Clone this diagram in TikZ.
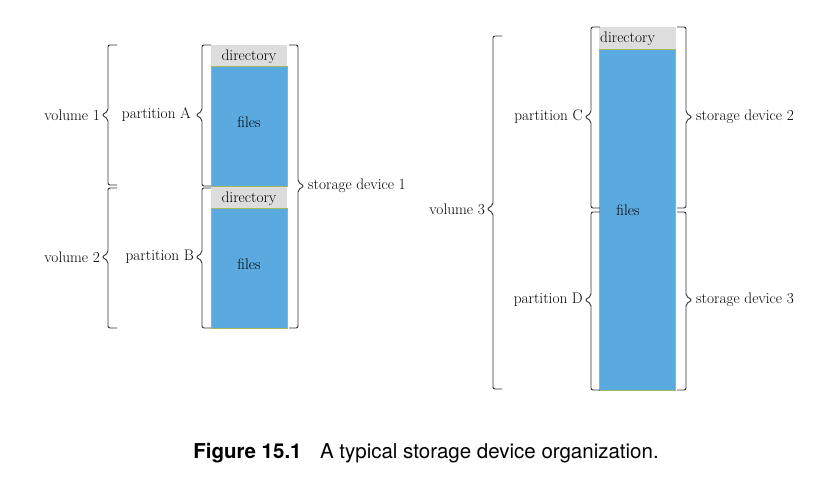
\documentclass[tikz,border=0pt]{standalone}
\usepackage{fontspec}
\newfontfamily\capfont{TeX Gyre Heros}
\usepackage{tikz}
\usetikzlibrary{positioning, shadows}
\definecolor{filesblue}{RGB}{90,170,224}
\definecolor{dirgray}{RGB}{221,221,221}
\definecolor{edgegreen}{RGB}{165,185,95}
\newcommand{\lblsize}{\fontsize{15.3}{17}\selectfont}
\tikzset{
	dir/.style={
			rectangle, fill=dirgray, minimum width=76pt, minimum height=21pt,
			inner sep=0pt, text centered, anchor=north west, font=\lblsize},
	files/.style={
			rectangle, fill=filesblue, draw=edgegreen, line width=0.5pt,
			minimum width=76pt, inner sep=0pt, anchor=north west, font=\lblsize,
			drop shadow={opacity=0.25, shadow xshift=1pt, shadow yshift=-1pt}},
	brk/.style={draw=black!80, line width=0.9pt, rounded corners=2pt},
	lbl/.style={inner sep=0pt, font=\lblsize},
		}
% left bracket: name, x, top, tip, bottom
\newcommand{\brkleft}[5]{%
	\draw[brk] (#2+9,#3) -- (#2,#3) -- (#2,#4-4) -- (#2-6,#4) -- (#2,#4+4) -- (#2,#5) -- (#2+9,#5);
	\coordinate (#1) at (#2-6,#4);
}
% right bracket: name, x, top, tip, bottom
\newcommand{\brkright}[5]{%
	\draw[brk] (#2-9,#3) -- (#2,#3) -- (#2,#4-4) -- (#2+6,#4) -- (#2,#4+4) -- (#2,#5) -- (#2-9,#5);
	\coordinate (#1) at (#2+6,#4);
}

\begin{document}
\begin{tikzpicture}[x=1pt, y=-1pt]
	\useasboundingbox (0,0) rectangle (830,478);

	% storage device 1
	\node[files, minimum height=120pt] (filesA) at (211,66) {};
	\node[dir] (dirA) at (211,45) {};
	\node[lbl] (dirAtxt) at (249,57) {directory};
	\node[lbl] (filesAtxt) at (249,122) {files};
	\node[files, minimum height=120pt] (filesB) at (211,208) {};
	\node[dir] (dirB) at (211,187) {};
	\node[lbl] (dirBtxt) at (249,199) {directory};
	\node[lbl] (filesBtxt) at (249,264) {files};

	% storage devices 2 and 3
	\node[files, minimum height=341pt] (filesCD) at (599,49) {};
	\node[dir, minimum width=77pt, minimum height=22pt] (dirC) at (599,27) {};
	\node[lbl, anchor=west] (dirCtxt) at (600,39) {directory};
	\node[lbl] (filesCDtxt) at (628,210) {files};

	% brackets
	\brkleft{vol1tip}{108}{45}{115}{185}
	\brkleft{vol2tip}{108}{188}{257}{328}
	\brkleft{partAtip}{202}{45}{115}{186}
	\brkleft{partBtip}{202}{188}{257}{328}
	\brkright{sd1tip}{298}{45}{186}{328}
	\brkleft{vol3tip}{493}{36}{209}{389}
	\brkleft{partCtip}{591}{27}{117}{208}
	\brkleft{partDtip}{591}{212}{300}{390}
	\brkright{sd2tip}{686}{27}{117}{208}
	\brkright{sd3tip}{686}{212}{300}{390}

	% labels
	\node[lbl, left=2pt of vol1tip] (vol1) {volume 1};
	\node[lbl, left=2pt of vol2tip] (vol2) {volume 2};
	\node[lbl, left=5pt of partAtip] (partA) {partition A};
	\node[lbl, left=2pt of partBtip] (partB) {partition B};
	\node[lbl, right=4pt of sd1tip] (sd1) {storage device 1};
	\node[lbl, left=2pt of vol3tip] (vol3) {volume 3};
	\node[lbl, left=2pt of partCtip] (partC) {partition C};
	\node[lbl, left=2pt of partDtip] (partD) {partition D};
	\node[lbl, right=4pt of sd2tip] (sd2) {storage device 2};
	\node[lbl, right=4pt of sd3tip] (sd3) {storage device 3};

	% caption
	\node[font={\capfont\fontsize{20.5}{24}\selectfont}] (caption) at (426,453)
		{\textbf{Figure 15.1}\hspace{0.9em}A typical storage device organization.};
\end{tikzpicture}
\end{document}
